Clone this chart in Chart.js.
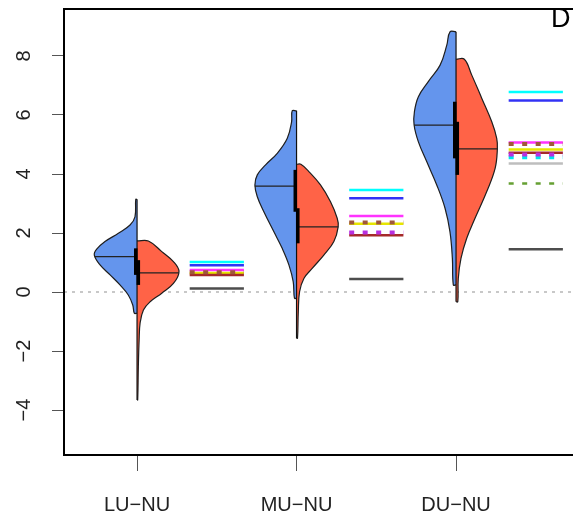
<!DOCTYPE html>
<html>
<head>
<meta charset="utf-8">
<title>Split violins</title>
<script src="https://cdn.jsdelivr.net/npm/chart.js@4/dist/chart.umd.min.js"></script>
<style>
    html, body {margin: 0; padding: 0; background: #fff; overflow: hidden;}
    #wrap {position: relative; width: 573px; height: 518px; overflow: hidden;}
    #panelTag {position: absolute; left: 551px; top: 5px; font: 27px/1 "Liberation Sans", Arial, sans-serif; color: #000;}
</style>
</head>
<body>
<div id="wrap">
    <canvas id="appChart" width="620" height="518"></canvas>
    <div id="panelTag">D</div>
</div>
<script>
// MODULE'S VARS
const categories = ['LU\u2212NU', 'MU\u2212NU', 'DU\u2212NU'];
const groupPos = [1, 2, 3];
const yTicks = [-4, -2, 0, 2, 4, 6, 8];

// violin outlines: levels (y) and half widths (x units), one row per group
const blueLevels = [
    [3.14, 2.55, 2.27, 1.99, 1.71, 1.45, 1.25, 0.92, 0.58, 0.24, -0.10, -0.44, -0.72],
    [6.14, 5.77, 5.21, 4.70, 4.31, 3.97, 3.63, 3.23, 2.72, 2.04, 1.48, 0.92, 0.35, -0.21],
    [8.82, 8.37, 7.69, 7.13, 6.62, 6.11, 5.66, 5.09, 4.42, 3.63, 2.84, 2.04, 1.14, 0.24],
];
const blueWidths = [
    [0.008, 0.013, 0.044, 0.117, 0.201, 0.253, 0.268, 0.232, 0.169, 0.107, 0.055, 0.027, 0.017],
    [0.027, 0.031, 0.058, 0.121, 0.194, 0.246, 0.261, 0.246, 0.205, 0.142, 0.090, 0.048, 0.021, 0.013],
    [0.038, 0.058, 0.100, 0.174, 0.236, 0.261, 0.263, 0.236, 0.184, 0.121, 0.069, 0.038, 0.023, 0.017],
];
const redLevels = [
    [1.73, 1.37, 1.03, 0.69, 0.29, -0.04, -0.33, -0.61, -1.06, -1.63, -2.53, -3.66],
    [4.33, 4.08, 3.63, 3.06, 2.50, 2.21, 1.71, 1.25, 0.80, 0.46, 0.01, -0.67, -1.57],
    [7.89, 7.36, 6.57, 5.77, 5.21, 4.85, 4.19, 3.40, 2.50, 1.82, 1.14, 0.46, -0.33],
];
const redWidths = [
    [0.071, 0.155, 0.228, 0.263, 0.228, 0.155, 0.082, 0.040, 0.019, 0.013, 0.008, 0.004],
    [0.027, 0.077, 0.150, 0.213, 0.255, 0.261, 0.234, 0.171, 0.098, 0.046, 0.019, 0.011, 0.006],
    [0.052, 0.098, 0.161, 0.224, 0.255, 0.259, 0.245, 0.192, 0.119, 0.067, 0.031, 0.014, 0.011],
];

// medians and their half widths, quartile boxes
const blueMedian = [1.20, 3.59, 5.66];
const blueMedianW = [0.265, 0.262, 0.263];
const redMedian = [0.65, 2.21, 4.85];
const redMedianW = [0.262, 0.261, 0.259];
const blueQ1 = [0.58, 2.72, 4.53];
const blueQ3 = [1.48, 4.14, 6.45];
const redQ1 = [0.24, 1.65, 3.97];
const redQ3 = [1.08, 2.84, 5.77];

// reference levels beside each violin
const refDarkGray = [0.12, 0.44, 1.45];
const refGray = [null, null, 4.36];
const refCyan = [1.02, 3.46, 6.78];
const refBlue = [0.91, 3.18, 6.49];
const refMagenta = [0.75, 2.58, 5.07];
const refYellow = [0.64, 2.31, 4.83];
const refBrown = [0.58, 1.92, 4.72];
const refCyanDash = [null, null, 4.57];
const refPurpleDash = [null, 2.02, 4.66];
const refBrownDash = [0.67, 2.36, 5.02];
const refGreenDash = [null, null, 3.68];

// LAYOUT
const X_MIN = 0.542;
const X_MAX = 4.028;
const Y_MIN = -5.525;
const Y_MAX = 9.593;
const DASH_FROM = 0.33;
const DASH_TO = 0.67;
const BOX_SHIFT = 0.008;
const FONT = '"Liberation Sans", Arial, sans-serif';
const OUTLINE = '#1e1e1e';
const BLUE_FILL = '#6495ed';
const RED_FILL = '#ff6347';

const REF_STYLES = [
    {values: refDarkGray, color: '#4d4d4d', width: 2.5, dash: []},
    {values: refGray, color: '#bebebe', width: 2.5, dash: []},
    {values: refCyan, color: '#00ffff', width: 2.5, dash: []},
    {values: refBlue, color: '#3232f5', width: 2.5, dash: []},
    {values: refMagenta, color: '#ff33ff', width: 2.5, dash: []},
    {values: refYellow, color: '#e6e600', width: 2.5, dash: []},
    {values: refBrown, color: '#a52a2a', width: 2.5, dash: []},
    {values: refCyanDash, color: '#00e5ee', width: 4, dash: [5, 8.5]},
    {values: refPurpleDash, color: '#b830e0', width: 4, dash: [5, 8.5]},
    {values: refBrownDash, color: '#a0583a', width: 4, dash: [5, 8.5]},
    {values: refGreenDash, color: '#66a033', width: 2.5, dash: [5, 8.5]},
];

// MODULE'S FUNCTIONS
function halfViolin(center, levels, widths, side) {
    const pts = [{x: center, y: levels[0]}];
    levels.forEach((y, k) => pts.push({x: center + side * widths[k], y}));
    pts.push({x: center, y: levels[levels.length - 1]});
    return pts;
}

const datasets = [];
const add = (ds) => datasets.push(Object.assign({
    pointRadius: 0, fill: false, tension: 0, spanGaps: false, borderCapStyle: 'butt',
}, ds));

// zero reference line
add({data: [{x: X_MIN, y: 0}, {x: X_MAX, y: 0}], borderColor: '#c8c8c8', borderWidth: 2, borderDash: [3, 5]});

groupPos.forEach((g, i) => {
    // violin halves
    add({
        data: halfViolin(g, blueLevels[i], blueWidths[i], -1),
        backgroundColor: BLUE_FILL, borderColor: OUTLINE, borderWidth: 1.2, fill: 'shape', tension: 0.4,
    });
    add({
        data: halfViolin(g, redLevels[i], redWidths[i], 1),
        backgroundColor: RED_FILL, borderColor: OUTLINE, borderWidth: 1.2, fill: 'shape', tension: 0.4,
    });
    // medians
    add({data: [{x: g - blueMedianW[i], y: blueMedian[i]}, {x: g, y: blueMedian[i]}], borderColor: '#222', borderWidth: 1.2});
    add({data: [{x: g, y: redMedian[i]}, {x: g + redMedianW[i], y: redMedian[i]}], borderColor: '#222', borderWidth: 1.2});
    // center line
    const top = Math.max(blueLevels[i][0], redLevels[i][0]);
    const bottom = Math.min(blueLevels[i][blueLevels[i].length - 1], redLevels[i][redLevels[i].length - 1]);
    add({data: [{x: g, y: top}, {x: g, y: bottom}], borderColor: '#111', borderWidth: 1.2});
    // quartile boxes
    add({data: [{x: g - BOX_SHIFT, y: blueQ1[i]}, {x: g - BOX_SHIFT, y: blueQ3[i]}], borderColor: '#000', borderWidth: 3.5});
    add({data: [{x: g + BOX_SHIFT, y: redQ1[i]}, {x: g + BOX_SHIFT, y: redQ3[i]}], borderColor: '#000', borderWidth: 3.5});
});

// reference dashes
REF_STYLES.forEach((s) => {
    groupPos.forEach((g, i) => {
        const v = s.values[i];
        if (v === null) return;
        add({
            data: [{x: g + DASH_FROM, y: v}, {x: g + DASH_TO, y: v}],
            borderColor: s.color, borderWidth: s.width, borderDash: s.dash,
        });
    });
});

datasets.forEach((d, i) => { d.order = datasets.length - i; });

const frameBox = {
    id: 'frameBox',
    afterDatasetsDraw(chart) {
        const {ctx, chartArea: a} = chart;
        ctx.save();
        ctx.strokeStyle = '#000';
        ctx.lineWidth = 2;
        ctx.strokeRect(a.left, a.top, a.right - a.left, a.bottom - a.top);
        ctx.restore();
    },
};

// MAIN FUNCTIONALITY
const ctx = document.getElementById('appChart').getContext('2d');
new Chart(ctx, {
    type: 'line',
    data: {datasets},
    plugins: [frameBox],
    options: {
        responsive: false,
        animation: false,
        devicePixelRatio: 1,
        events: [],
        layout: {padding: {top: 9, left: 0, right: 0, bottom: 0}},
        plugins: {legend: {display: false}, tooltip: {enabled: false}},
        scales: {
            x: {
                type: 'linear',
                min: X_MIN,
                max: X_MAX,
                afterBuildTicks: (scale) => { scale.ticks = groupPos.map((value) => ({value})); },
                afterFit: (scale) => { scale.height = 63; scale.paddingLeft = 0; scale.paddingRight = 0; },
                border: {display: false},
                grid: {drawOnChartArea: false, drawTicks: true, tickLength: 16, color: '#555', lineWidth: 1},
                ticks: {
                    autoSkip: false, maxRotation: 0, padding: 22, color: '#222',
                    font: {family: FONT, size: 20},
                    callback: (value, index) => categories[index],
                },
            },
            y: {
                type: 'linear',
                min: Y_MIN,
                max: Y_MAX,
                afterBuildTicks: (scale) => { scale.ticks = yTicks.map((value) => ({value})); },
                afterFit: (scale) => { scale.width = 64; scale.paddingTop = 0; scale.paddingBottom = 0; },
                border: {display: false},
                grid: {drawOnChartArea: false, drawTicks: true, tickLength: 12, color: '#555', lineWidth: 1},
                ticks: {
                    minRotation: 90, maxRotation: 90, crossAlign: 'center', padding: 16, color: '#222',
                    font: {family: FONT, size: 20},
                    callback: (value) => String(value).replace('-', '\u2212'),
                },
            },
        },
    },
});
</script>
</body>
</html>
